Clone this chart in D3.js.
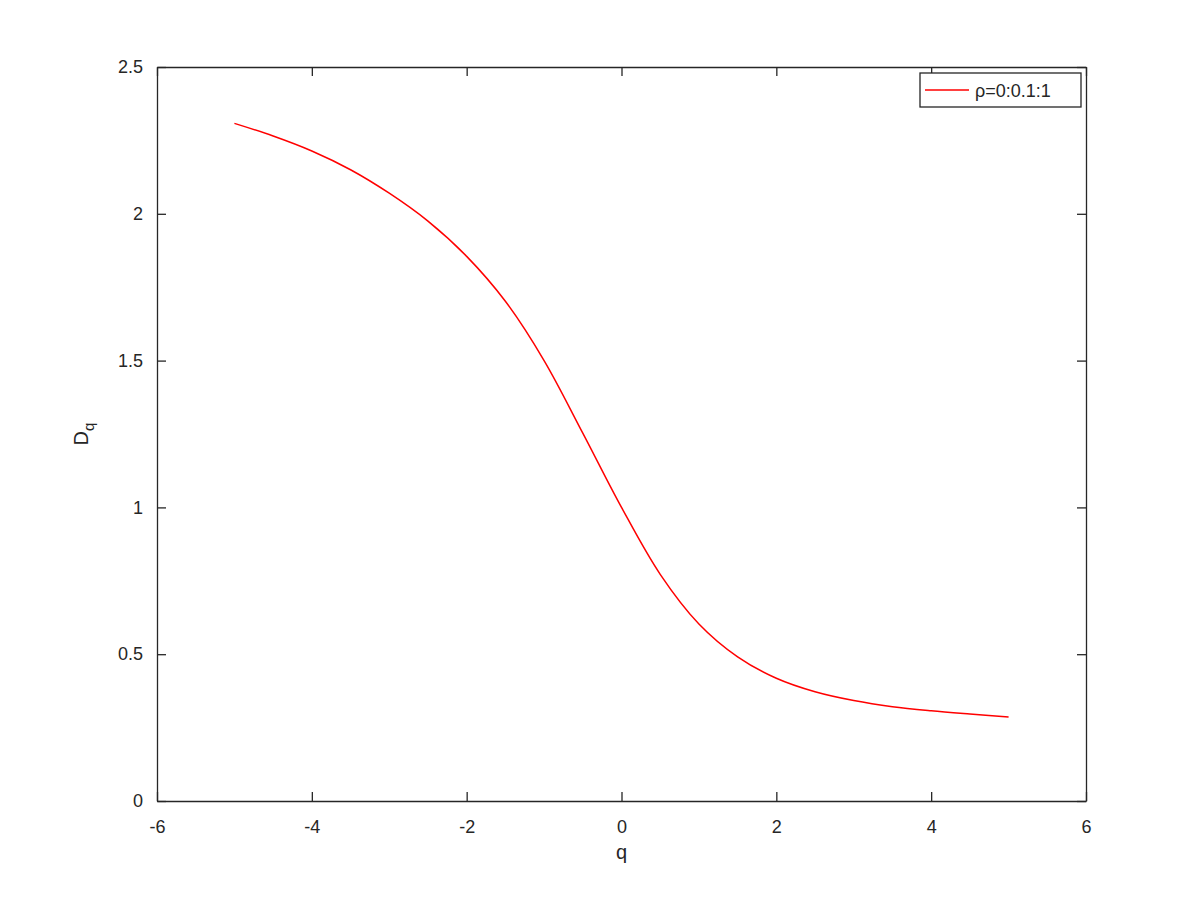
<!DOCTYPE html>
<html>
	<head>
		<meta charset="utf-8">
		<style type="text/css">
			body { margin: 0; background: #fff; }
			svg text { font-family: "Liberation Sans", Arial, sans-serif; fill: #262626; }
		</style>
		<title>Dq</title>
	</head>
	<body>
		<script src="https://cdn.jsdelivr.net/npm/d3@7"></script>
		<script>

// values
var qValues  = [-5, -4.5, -4, -3.5, -3, -2.5, -2, -1.5, -1, -0.5, 0, 0.5, 1, 1.5, 2, 2.5, 3, 3.5, 4, 4.5, 5];
var dqValues = [2.308, 2.265, 2.214, 2.150, 2.070, 1.975, 1.855, 1.702, 1.500, 1.253, 1.000, 0.772, 0.603, 0.491, 0.418, 0.372, 0.342, 0.321, 0.307, 0.296, 0.286];
var xTicks = [-6, -4, -2, 0, 2, 4, 6];
var yTicks = [0, 0.5, 1, 1.5, 2, 2.5];
var legendLabel = "ρ=0:0.1:1";

var margin = {top: 67, right: 114, bottom: 99, left: 157};
var width = 1200 - margin.left - margin.right,
    height = 900 - margin.top - margin.bottom;

var svg = d3.select("body").append("svg")
    .attr("width", 1200)
    .attr("height", 900)
  .append("g")
    .attr("transform", "translate(" + margin.left + "," + margin.top + ")");

var x = d3.scaleLinear()
    .domain([-6, 6])
    .range([0, width]);

var y = d3.scaleLinear()
    .domain([0, 2.5])
    .range([height, 0]);

var data = qValues.map(function(q, i) { return {q: q, d: dqValues[i]}; });

// curve
var line = d3.line()
    .curve(d3.curveCatmullRom.alpha(0.5))
    .x(function(d) { return x(d.q); })
    .y(function(d) { return y(d.d); });

svg.append("path")
    .datum(data)
    .attr("fill", "none")
    .attr("stroke", "#ff0000")
    .attr("stroke-width", 1.5)
    .attr("d", line);

// box axes, ticks pointing inward
function styleAxis(g) {
  g.selectAll("path, line").attr("stroke", "#262626").attr("stroke-width", 1.3);
  g.selectAll("text").attr("font-size", 18).attr("font-family", null).attr("fill", "#262626");
}
var plain = function(d) { return String(d); };

svg.append("g")
    .attr("transform", "translate(0," + height + ")")
    .call(d3.axisBottom(x).tickValues(xTicks).tickSizeInner(-9).tickSizeOuter(0).tickPadding(19).tickFormat(plain))
    .call(styleAxis);

svg.append("g")
    .call(d3.axisTop(x).tickValues(xTicks).tickSizeInner(-9).tickSizeOuter(0).tickFormat(""))
    .call(styleAxis);

svg.append("g")
    .call(d3.axisLeft(y).tickValues(yTicks).tickSizeInner(-9).tickSizeOuter(0).tickPadding(14).tickFormat(plain))
    .call(styleAxis);

svg.append("g")
    .attr("transform", "translate(" + width + ",0)")
    .call(d3.axisRight(y).tickValues(yTicks).tickSizeInner(-9).tickSizeOuter(0).tickFormat(""))
    .call(styleAxis);

// axis labels
svg.append("text")
    .attr("x", width / 2)
    .attr("y", height + 58)
    .attr("text-anchor", "middle")
    .attr("font-size", 20)
    .text("q");

var ylab = svg.append("text")
    .attr("transform", "translate(" + (-69) + "," + (height / 2) + ") rotate(-90)")
    .attr("text-anchor", "middle")
    .attr("font-size", 20);
ylab.append("tspan").text("D");
ylab.append("tspan").attr("dy", 6).attr("font-size", 15).text("q");

// legend
var legend = svg.append("g")
    .attr("transform", "translate(" + (x(6) - 166) + ",6)");

legend.append("rect")
    .attr("width", 161)
    .attr("height", 34)
    .attr("fill", "#fff")
    .attr("stroke", "#262626")
    .attr("stroke-width", 1.3);

legend.append("line")
    .attr("x1", 5).attr("x2", 49)
    .attr("y1", 17).attr("y2", 17)
    .attr("stroke", "#ff0000")
    .attr("stroke-width", 1.5);

legend.append("text")
    .attr("x", 55)
    .attr("y", 24)
    .attr("font-size", 18)
    .text(legendLabel);

		</script>
	</body>
</html>
